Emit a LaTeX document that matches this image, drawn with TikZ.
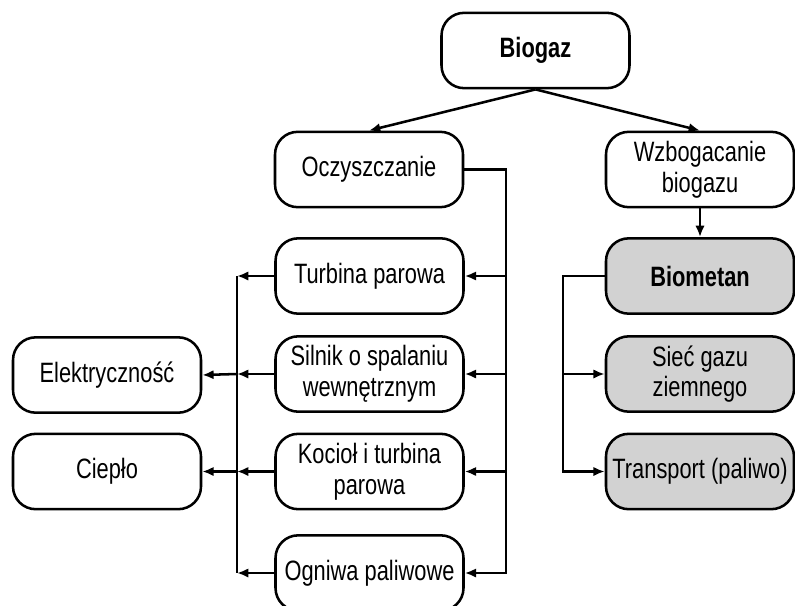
\documentclass[tikz,border=0pt]{standalone}
\usepackage{fontspec}
\setmainfont{Liberation Sans}[FakeStretch=0.78]
\usetikzlibrary{arrows.meta}
\definecolor{boxgray}{RGB}{210,210,210}

\begin{document}
\begin{tikzpicture}[x=0.75pt, y=-0.75pt,
    line width=1.9pt,
    >={Latex[length=8.5pt,width=7pt]},
    box/.style={draw, rounded corners=17pt, minimum width=141pt,
        minimum height=56.5pt, align=center, inner sep=2pt,
        font=\fontsize{21}{23}\selectfont},
    graybox/.style={box, fill=boxgray}]
    \useasboundingbox (0,0) rectangle (795,606);

    \node[box, font=\fontsize{21}{23}\selectfont\bfseries] (biogaz) at (535.5,50.5) {Biogaz};
    \node[box] (oczysz) at (369,169.5) {Oczyszczanie};
    \node[box] (wzbog)  at (700,169.5) {Wzbogacanie\\biogazu};

    \node[box] (turbina) at (369.5,276)   {Turbina parowa};
    \node[box] (silnik)  at (369.5,374)   {Silnik o spalaniu\\wewnętrznym};
    \node[box] (kociol)  at (369.5,471.5) {Kocioł i turbina\\parowa};
    \node[box] (ogniwa)  at (369.5,573)   {Ogniwa paliwowe};

    \node[box] (elektr) at (107,375)   {Elektryczność};
    \node[box] (cieplo) at (107,471.5) {Ciepło};

    \node[graybox, font=\fontsize{21}{23}\selectfont\bfseries] (biometan) at (700,276) {Biometan};
    \node[graybox] (siec)      at (700,374)   {Sieć gazu\\ziemnego};
    \node[graybox] (transport) at (700,471.5) {Transport (paliwo)};

    \coordinate (busR) at (506,573);
    \coordinate (busL) at (237,276);
    \coordinate (busB) at (563,471.5);

    \draw[->] (biogaz.south) -- (oczysz.north);
    \draw[->] (biogaz.south) -- (wzbog.north);
    \draw[->] (wzbog.south) -- (biometan.north);

    % oczyszczanie -> technologie
    \draw[->] (oczysz.east) -| (busR) -- (ogniwa.east);
    \draw[->] (turbina.east -| busR) -- (turbina.east);
    \draw[->] (silnik.east -| busR) -- (silnik.east);
    \draw[->] (kociol.east -| busR) -- (kociol.east);

    % technologie -> energia
    \draw (turbina.west -| busL) -- (ogniwa.west -| busL);
    \draw[->] (turbina.west) -- (turbina.west -| busL);
    \draw[->] (silnik.west) -- (silnik.west -| busL);
    \draw[->] (kociol.west) -- (kociol.west -| busL);
    \draw[->] (ogniwa.west) -- (ogniwa.west -| busL);
    \draw[->] (silnik.west -| busL) -- (elektr.east);
    \draw[->] (kociol.west -| busL) -- (cieplo.east);

    % biometan
    \draw[->] (biometan.west) -| (busB) -- (transport.west);
    \draw[->] (siec.west -| busB) -- (siec.west);
\end{tikzpicture}
\end{document}
